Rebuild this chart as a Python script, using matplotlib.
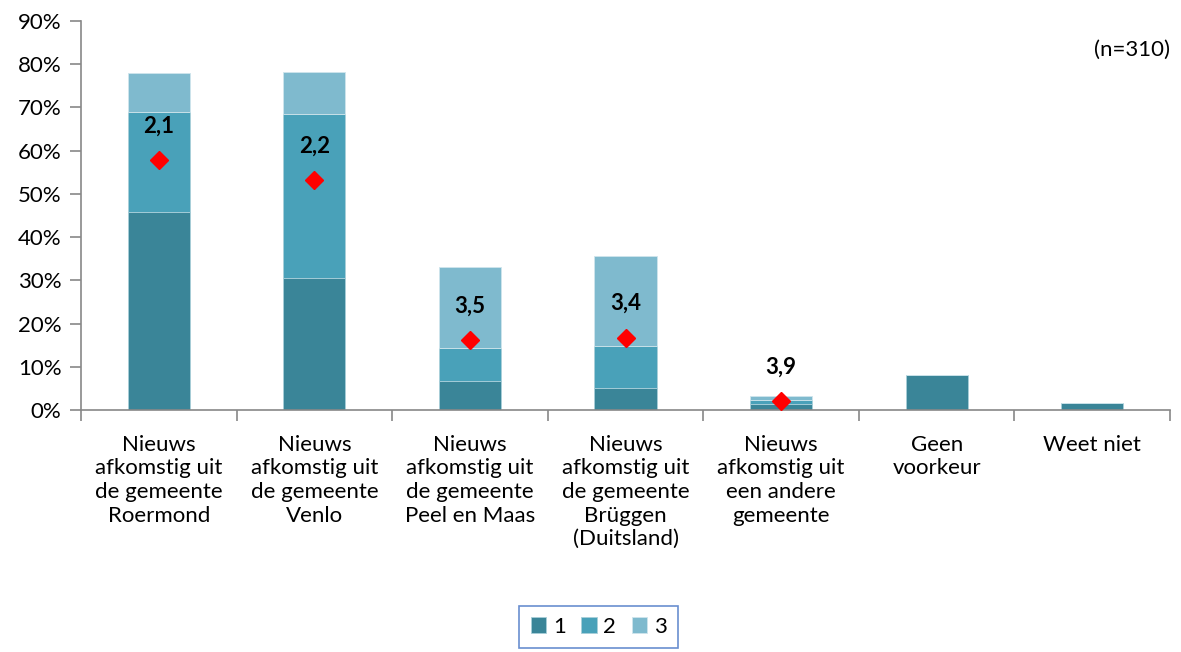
import matplotlib
matplotlib.use("Agg")
import numpy as np
import matplotlib.pyplot as plt
from matplotlib.ticker import PercentFormatter, FixedLocator

plt.rcParams.update({"font.family": ["Lato", "DejaVu Sans"], "font.size": 16})

categories = [
    "Nieuws\nafkomstig uit\nde gemeente\nRoermond",
    "Nieuws\nafkomstig uit\nde gemeente\nVenlo",
    "Nieuws\nafkomstig uit\nde gemeente\nPeel en Maas",
    "Nieuws\nafkomstig uit\nde gemeente\nBrüggen\n(Duitsland)",
    "Nieuws\nafkomstig uit\neen andere\ngemeente",
    "Geen\nvoorkeur",
    "Weet niet",
]
rank1 = [45.9, 30.5, 6.8, 5.2, 1.3, 8.1, 1.5]
rank2 = [23.1, 37.9, 7.5, 9.6, 0.9, 0, 0]
rank3 = [8.9, 9.7, 18.7, 20.8, 1.0, 0, 0]
mean_pos = [57.8, 53.1, 16.2, 16.7, 2.1]
mean_lbl = ["2,1", "2,2", "3,5", "3,4", "3,9"]

C1 = "#3A8598"; C2 = "#49A1B9"; C3 = "#7FBACE"; AX = "#888888"

fig = plt.figure(figsize=(11.81, 6.52), dpi=100)
ax = fig.add_axes([0.0686, 0.3712, 0.9221, 0.5966])
x = np.arange(len(categories))
w = 0.4
r1 = np.array(rank1); r2 = np.array(rank2); r3 = np.array(rank3)
ax.bar(x, r1, w, color=C1, edgecolor="#a9cfd9", lw=0.6, label="1")
ax.bar(x, r2, w, bottom=r1, color=C2, edgecolor="#a9cfd9", lw=0.6, label="2")
ax.bar(x, r3, w, bottom=r1 + r2, color=C3, edgecolor="#cfe5ec", lw=0.6, label="3")

xm = x[:len(mean_pos)]
ax.plot(xm, mean_pos, ls="none", marker="D", ms=9.5, color="#FF0000", zorder=5)
for xi, yi, t in zip(xm, mean_pos, mean_lbl):
    ax.annotate(t, (xi, yi), xytext=(0, 17), textcoords="offset points",
                ha="center", va="bottom", fontsize=16, fontweight="bold", color="black")

ax.set_xlim(-0.5, len(categories) - 0.5)
ax.set_ylim(0, 90)
ax.set_yticks(np.arange(0, 91, 10))
ax.yaxis.set_major_formatter(PercentFormatter(decimals=0))
ax.set_xticks(x)
ax.set_xticklabels(categories, va="top", linespacing=1.22)
ax.xaxis.set_minor_locator(FixedLocator(np.arange(-0.5, len(categories), 1)))
ax.tick_params(axis="x", which="major", length=0, pad=18)
ax.tick_params(axis="x", which="minor", length=8, color=AX, width=1.2)
ax.tick_params(axis="y", length=8, color=AX, width=1.2, pad=6)
for s in ("top", "right"):
    ax.spines[s].set_visible(False)
for s in ("left", "bottom"):
    ax.spines[s].set_color(AX)
    ax.spines[s].set_linewidth(1.2)

ax.text(1.0, 0.925, "(n=310)", transform=ax.transAxes, ha="right", va="center", fontsize=16)

leg = fig.legend(loc="upper center", bbox_to_anchor=(0.507, 0.071), ncol=3,
                 frameon=True, fancybox=False, handlelength=0.7, handleheight=0.7,
                 handletextpad=0.3, columnspacing=0.7, fontsize=16, borderpad=0.5,
                 borderaxespad=0)
leg.get_frame().set_edgecolor("#4472C4")
leg.get_frame().set_linewidth(1.2)

fig.savefig("out.png", dpi=100, facecolor="white")
